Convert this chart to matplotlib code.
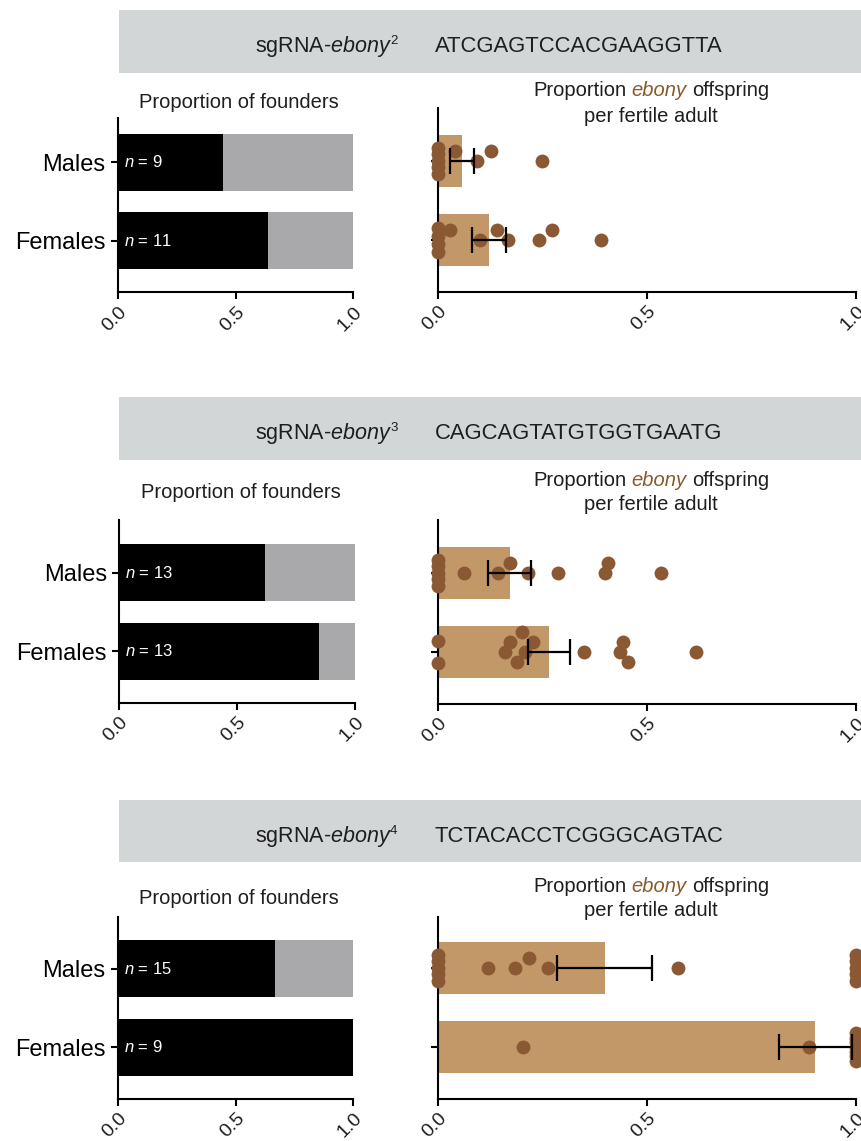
import matplotlib
matplotlib.use("Agg")
import matplotlib.pyplot as plt
import numpy as np
from matplotlib.patches import Rectangle
from matplotlib.offsetbox import TextArea, HPacker, AnnotationBbox

plt.rcParams['font.family'] = ['Liberation Sans', 'DejaVu Sans']
plt.rcParams['mathtext.fontset'] = 'custom'
plt.rcParams['mathtext.rm'] = 'Liberation Sans'
plt.rcParams['mathtext.it'] = 'Liberation Sans:italic'
plt.rcParams['mathtext.bf'] = 'Liberation Sans:bold'

# ---------------- data ----------------
guide_numbers = ["2", "3", "4"]
guide_sequences = ["ATCGAGTCCACGAAGGTTA", "CAGCAGTATGTGGTGAATG", "TCTACACCTCGGGCAGTAC"]
sexes = ["Males", "Females"]
founders_n = [[9, 11], [13, 13], [15, 9]]
founders_prop = [[0.444, 0.636], [0.615, 0.846], [0.667, 1.0]]
offspring_mean = [[0.057, 0.122], [0.171, 0.265], [0.398, 0.902]]
offspring_sem = [[0.029, 0.041], [0.052, 0.051], [0.113, 0.088]]

e2_males = [0, 0, 0, 0, 0, 0.041, 0.093, 0.127, 0.249]
e2_females = [0, 0, 0, 0, 0.029, 0.100, 0.140, 0.168, 0.242, 0.273, 0.389]
e3_males = [0, 0, 0, 0, 0, 0.063, 0.144, 0.172, 0.216, 0.286, 0.398, 0.406, 0.533]
e3_females = [0, 0, 0.160, 0.172, 0.188, 0.200, 0.208, 0.227, 0.348, 0.435, 0.443, 0.453, 0.616]
e4_males = [0, 0, 0, 0, 0, 0.119, 0.183, 0.218, 0.264, 0.573, 1, 1, 1, 1, 1]
e4_females = [0.202, 0.886, 1, 1, 1, 1, 1, 1, 1]
points = [[e2_males, e2_females], [e3_males, e3_females], [e4_males, e4_females]]

tick_vals = [0.0, 0.5, 1.0]
tick_labels = ["0.0", "0.5", "1.0"]

# ---------------- style ----------------
BAND = "#d2d6d6"
BLACK = "#000000"
GREY = "#a9a8ab"
TAN = "#c39868"
DOT = "#8a5933"
EBONY = "#8a5a2b"
TXT = "#1e1e1e"

W, H = 862, 1141
fig = plt.figure(figsize=(W / 100, H / 100), dpi=100)


def box(x0, x1, y0, y1):
    return [x0 / W, 1 - y1 / H, (x1 - x0) / W, (y1 - y0) / H]


layout = [
    dict(band=(10, 73), base=52, ltitle=103, left=(118, 353.5, 118, 292.5),
         right=(438, 856.5, 108, 292), rt=(90, 116)),
    dict(band=(397, 460), base=439, ltitle=492, left=(119.5, 355.5, 520, 703),
         right=(438, 856.5, 520, 704), rt=(480, 505)),
    dict(band=(800, 862), base=842, ltitle=899, left=(118, 353.5, 917, 1099),
         right=(438, 856.5, 917, 1099), rt=(887, 911)),
]

PX_PER_CAT = 79.0


def style_axes(ax):
    for s in ["top", "right"]:
        ax.spines[s].set_visible(False)
    for s in ["left", "bottom"]:
        ax.spines[s].set_linewidth(1.5)
        ax.spines[s].set_color("black")
    ax.tick_params(axis="both", direction="out", length=5, width=1.5, color="black")
    ax.set_xlim(0, 1)
    ax.set_xticks(tick_vals)
    ax.set_xticklabels(tick_labels, rotation=45, ha="right", va="top",
                       rotation_mode="anchor", fontsize=14, color=TXT)
    ax.tick_params(axis="x", pad=3)


def swarm(vals, px_x, step=10.0, width=18.0):
    vals = np.asarray(vals, dtype=float)
    offs = np.zeros(len(vals))
    uniq, counts = np.unique(vals, return_counts=True)
    ties = {u: c for u, c in zip(uniq, counts) if c > 1}
    for u, c in ties.items():
        span = 22 + 1.2 * (c - 2)
        idx = np.where(vals == u)[0]
        offs[idx] = np.linspace(-span / 2, span / 2, c)
    placed = [(u * px_x, 0) for u in ties]
    order = [0, -1, 1, -2, 2, -3, 3]
    for i, v in enumerate(vals):
        if v in ties:
            continue
        x = v * px_x
        for s in order:
            if all(not (sl == s and abs(x - px) < width) for px, sl in placed):
                placed.append((x, s))
                offs[i] = s * step
                break
    return offs


for p, lay in enumerate(layout):
    # header band
    b0, b1 = lay["band"]
    fig.add_artist(Rectangle((119 / W, 1 - b1 / H), 1.0, (b1 - b0) / H,
                             transform=fig.transFigure, facecolor=BAND,
                             edgecolor="none", zorder=0))
    fig.text(392 / W, 1 - lay["base"] / H, "sgRNA-$\\mathit{ebony}$",
             ha="right", va="baseline", fontsize=15.5, color=TXT)
    fig.text(390 / W, 1 - (lay["base"] - 8) / H, guide_numbers[p],
             ha="left", va="baseline", fontsize=9.5, color=TXT)
    fig.text(435 / W, 1 - lay["base"] / H, guide_sequences[p],
             ha="left", va="baseline", fontsize=15.8, color=TXT)

    # left panel: proportion of founders
    x0, x1, y0, y1 = lay["left"]
    axl = fig.add_axes(box(x0, x1, y0, y1))
    style_axes(axl)
    ypos = [1, 0]
    props = founders_prop[p]
    axl.barh(ypos, props, height=0.73, color=BLACK, zorder=1)
    axl.barh(ypos, [1 - v for v in props], left=props, height=0.73, color=GREY, zorder=1)
    for yy, n in zip(ypos, founders_n[p]):
        axl.text(0.025, yy, "$\\mathit{n}$ = " + str(n), color="white",
                 fontsize=12, va="center", ha="left", zorder=3)
    axl.set_yticks(ypos)
    axl.set_yticklabels(sexes, fontsize=17, color="black")
    axl.tick_params(axis="y", pad=4)
    axl.set_ylim(-0.66, -0.66 + (y1 - y0) / 78.5)
    fig.text(((x0 + x1) / 2 + 3) / W, 1 - lay["ltitle"] / H, "Proportion of founders",
             ha="center", va="center", fontsize=14.5, color=TXT)

    # right panel: proportion ebony offspring
    x0, x1, y0, y1 = lay["right"]
    axr = fig.add_axes(box(x0, x1, y0, y1))
    style_axes(axr)
    axr.set_ylim(-0.66, -0.66 + (y1 - y0) / PX_PER_CAT)
    axr.set_yticks(ypos)
    axr.set_yticklabels([])
    px_x = x1 - x0
    for k, yy in enumerate(ypos):
        axr.barh(yy, offspring_mean[p][k], height=0.66, color=TAN, zorder=1)
        vals = points[p][k]
        offs = swarm(vals, px_x)
        axr.scatter(vals, yy - offs / PX_PER_CAT, s=100, color=DOT, linewidths=0,
                    zorder=3, clip_on=False)
        axr.errorbar(offspring_mean[p][k], yy, xerr=offspring_sem[p][k], fmt="none",
                     ecolor="black", elinewidth=1.6, capsize=9.5, capthick=1.6,
                     zorder=4, clip_on=False)

    cx = (x0 + x1) / 2 + 4
    t1 = TextArea("Proportion", textprops=dict(fontsize=14.5, color=TXT))
    t2 = TextArea("ebony", textprops=dict(fontsize=14.5, color=EBONY, style="italic"))
    t3 = TextArea("offspring", textprops=dict(fontsize=14.5, color=TXT))
    line1 = HPacker(children=[t1, t2, t3], sep=4, align="baseline", pad=0)
    ab = AnnotationBbox(line1, (cx, H - lay["rt"][0]), xycoords="figure pixels",
                        frameon=False, box_alignment=(0.5, 0.5), pad=0)
    fig.add_artist(ab)
    fig.text(cx / W, 1 - lay["rt"][1] / H, "per fertile adult", ha="center",
             va="center", fontsize=14.5, color=TXT)

fig.savefig("out.png", dpi=100)
